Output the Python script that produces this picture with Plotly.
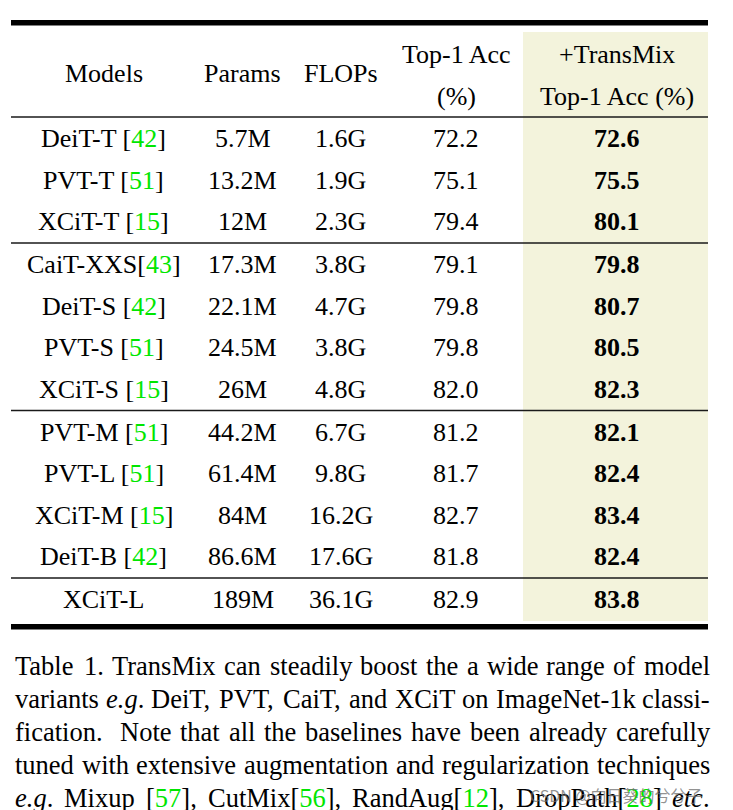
import re
import plotly.graph_objects as go

# ---------------- data ----------------
models = ["DeiT-T", "PVT-T", "XCiT-T", "CaiT-XXS", "DeiT-S", "PVT-S", "XCiT-S",
          "PVT-M", "PVT-L", "XCiT-M", "DeiT-B", "XCiT-L"]
refs = ["42", "51", "15", "43", "42", "51", "15", "51", "51", "15", "42", ""]
ref_space = [" ", " ", " ", "", " ", " ", " ", " ", " ", " ", " ", ""]
params = ["5.7M", "13.2M", "12M", "17.3M", "22.1M", "24.5M", "26M",
          "44.2M", "61.4M", "84M", "86.6M", "189M"]
flops = ["1.6G", "1.9G", "2.3G", "3.8G", "4.7G", "3.8G", "4.8G",
         "6.7G", "9.8G", "16.2G", "17.6G", "36.1G"]
top1 = [72.2, 75.1, 79.4, 79.1, 79.8, 79.8, 82.0, 81.2, 81.7, 82.7, 81.8, 82.9]
transmix = [72.6, 75.5, 80.1, 79.8, 80.7, 80.5, 82.3, 82.1, 82.4, 83.4, 82.4, 83.8]
group_sizes = [3, 4, 4, 1]

GREEN = "#00E600"
def g(s):
    return f"<span style='color:{GREEN}'>{s}</span>"

caption_lines = [
    ["Table", "1.", "TransMix", "can", "steadily", "boost", "the", "a", "wide", "range", "of", "model"],
    ["variants", "<i>e.g</i>.", "DeiT,", "PVT,", "CaiT,", "and", "XCiT", "on", "ImageNet-1k", "classi-"],
    ["fication.", "Note", "that", "all", "the", "baselines", "have", "been", "already", "carefully"],
    ["tuned", "with", "extensive", "augmentation", "and", "regularization", "techniques"],
    ["<i>e.g</i>.", "Mixup", f"[{g('57')}],", f"CutMix[{g('56')}],", f"RandAug[{g('12')}],",
     f"DropPath[{g('28')}]", "<i>etc</i>."],
]
watermark = "CSDN @向日葵的兮兮子"

# ---------------- layout constants ----------------
W, H = 733, 810
FONT = "Liberation Serif, Times New Roman, serif"
FS = 26
CAP_FS = 26.5
L, R = 11, 708
col_x = [103.5, 242.5, 340.5, 456, 617]
hl_x0 = 523

# Times-Roman advance widths (/1000 em)
TW = {' ': 250, ',': 250, '-': 333, '.': 250, '[': 333, ']': 333, '(': 333, ')': 333,
      '0': 500, '1': 500, '2': 500, '3': 500, '4': 500, '5': 500, '6': 500, '7': 500, '8': 500, '9': 500,
      'A': 722, 'B': 667, 'C': 667, 'D': 722, 'E': 611, 'F': 556, 'G': 722, 'H': 722, 'I': 333,
      'J': 389, 'K': 722, 'L': 611, 'M': 889, 'N': 722, 'O': 722, 'P': 556, 'Q': 722, 'R': 667,
      'S': 556, 'T': 611, 'U': 722, 'V': 722, 'W': 944, 'X': 722, 'Y': 722, 'Z': 611,
      'a': 444, 'b': 500, 'c': 444, 'd': 500, 'e': 444, 'f': 333, 'g': 500, 'h': 500, 'i': 278,
      'j': 278, 'k': 500, 'l': 278, 'm': 778, 'n': 500, 'o': 500, 'p': 500, 'q': 500, 'r': 333,
      's': 389, 't': 278, 'u': 500, 'v': 500, 'w': 722, 'x': 500, 'y': 500, 'z': 444}

def text_width(s, fs):
    plain = re.sub(r"<[^>]+>", "", s)
    return sum(TW.get(ch, 500) for ch in plain) * fs / 1000.0

fig = go.Figure()
shapes = []
annotations = []

# row positions
row_y = []
line_y = [117]
y = 117
for gs in group_sizes:
    y += 21.5
    for k in range(gs):
        row_y.append(y)
        if k < gs - 1:
            y += 41.5
    y += 21.5
    line_y.append(y)

# highlight column
shapes.append(dict(type="rect", xref="x", yref="y", x0=hl_x0, x1=R, y0=32, y1=621,
                   fillcolor="#F3F3DC", line=dict(width=0), layer="below"))
# thick rules
shapes.append(dict(type="rect", xref="x", yref="y", x0=L, x1=R, y0=20, y1=25.5,
                   fillcolor="black", line=dict(width=0)))
shapes.append(dict(type="rect", xref="x", yref="y", x0=L, x1=R, y0=624, y1=629.5,
                   fillcolor="black", line=dict(width=0)))
# thin rules
for ly in line_y[:-1]:
    shapes.append(dict(type="line", xref="x", yref="y", x0=L, x1=R, y0=ly, y1=ly,
                       line=dict(color="#1a1a1a", width=1.5)))

def add_text(x, y, text, size=FS, xanchor="center", color="black", family=FONT):
    annotations.append(dict(x=x, y=y, xref="x", yref="y", text=text, showarrow=False,
                            xanchor=xanchor, yanchor="middle",
                            font=dict(family=family, size=size, color=color)))

# header
add_text(col_x[0], 73, "Models")
add_text(col_x[1], 73, "Params")
add_text(col_x[2], 73, "FLOPs")
add_text(col_x[3], 54, "Top-1 Acc")
add_text(col_x[3], 96, "(%)")
add_text(col_x[4], 54, "+TransMix")
add_text(col_x[4], 96, "Top-1 Acc (%)")

# body
for i, yy in enumerate(row_y):
    name = models[i] + (ref_space[i] + "[" + g(refs[i]) + "]" if refs[i] else "")
    add_text(col_x[0], yy, name)
    add_text(col_x[1], yy, params[i])
    add_text(col_x[2], yy, flops[i])
    add_text(col_x[3], yy, f"{top1[i]:.1f}")
    add_text(col_x[4], yy, f"<b>{transmix[i]:.1f}</b>")

# caption, justified word by word (sentence end gets a wider space, like TeX)
cap_L, cap_R = 13, 708
cap_y0, cap_dy = 666, 33
for li, words in enumerate(caption_lines):
    widths = [text_width(w, CAP_FS) for w in words]
    weights = [2.0 if (words[k].endswith("n.") or words[k] == "fication.") else 1.0
               for k in range(len(words) - 1)]
    unit = (cap_R - cap_L - sum(widths)) / sum(weights)
    x = cap_L
    for k, (w, wd) in enumerate(zip(words, widths)):
        add_text(x, cap_y0 + li * cap_dy, w, size=CAP_FS, xanchor="left")
        if k < len(weights):
            x += wd + unit * weights[k]

# watermark
add_text(528, 795, watermark, size=16, xanchor="left", color="rgba(110,110,110,0.75)",
         family="Noto Sans CJK SC, sans-serif")

fig.update_layout(
    width=W, height=H, margin=dict(l=0, r=0, t=0, b=0),
    paper_bgcolor="white", plot_bgcolor="white",
    xaxis=dict(range=[0, W], visible=False, fixedrange=True),
    yaxis=dict(range=[H, 0], visible=False, fixedrange=True),
    shapes=shapes, annotations=annotations, showlegend=False,
)
fig.write_html("out.html", config={"displayModeBar": False},
               post_script="document.body.style.margin='0';document.body.style.overflow='hidden';")
